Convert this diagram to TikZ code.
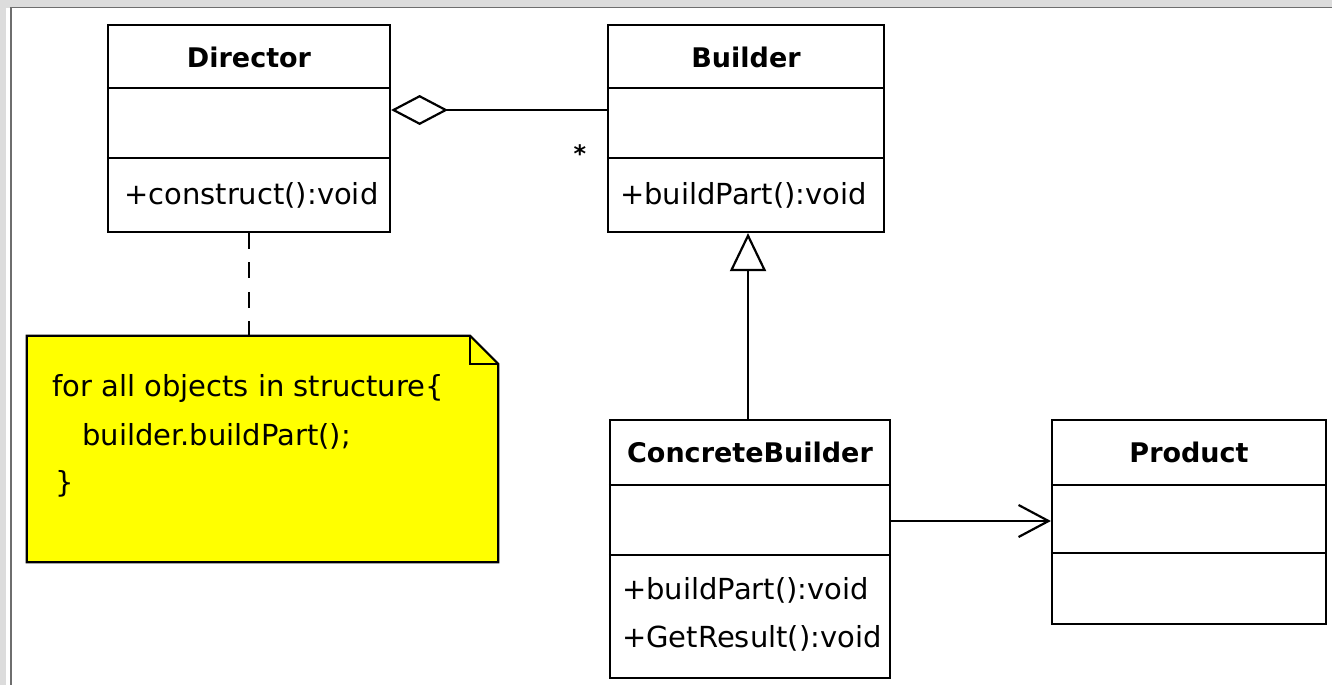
\documentclass[tikz,border=0pt]{standalone}
\usepackage{fontspec}
\setmainfont{DejaVu Sans}
\usetikzlibrary{arrows.meta,calc}
\definecolor{bggray}{HTML}{DCDCDC}
\definecolor{framegray}{HTML}{6E6E6E}
\definecolor{noteyellow}{HTML}{FFFF00}
\begin{document}
\begin{tikzpicture}[x=1pt,y=-1pt,
  ln/.style={line width=2.2pt, draw=black},
  cls/.style={ln, rectangle, inner sep=0pt, fill=white},
  ttl/.style={font=\fontsize{27}{30}\selectfont\bfseries, inner sep=0pt},
  mth/.style={font=\fontsize{29}{32}\selectfont, anchor=west, inner sep=0pt}]
\useasboundingbox (0,0) rectangle (1332,685);
% frame
\fill[bggray] (0,0) rectangle (1332,685);
\fill[white] (6,8.5) rectangle (1332,685);
\fill[framegray] (10,7) rectangle (1332,8.5);
\fill[framegray] (10,7) rectangle (12,685);

% Director
\node[cls, minimum width=282pt, minimum height=207pt] (dir) at (249,128.5) {};
\draw[ln] (dir.west |- 0,88) -- (dir.east |- 0,88);
\draw[ln] (dir.west |- 0,158) -- (dir.east |- 0,158);
\node[ttl] (dirT) at (249,57) {Director};
\node[mth] (dirM) at (124,195) {+construct():void};

% Builder
\node[cls, minimum width=276pt, minimum height=207pt] (bld) at (746,128.5) {};
\draw[ln] (bld.west |- 0,88) -- (bld.east |- 0,88);
\draw[ln] (bld.west |- 0,158) -- (bld.east |- 0,158);
\node[ttl] (bldT) at (746,57) {Builder};
\node[mth] (bldM) at (620,195) {+buildPart():void};

% ConcreteBuilder
\node[cls, minimum width=280pt, minimum height=258pt] (cb) at (750,549) {};
\draw[ln] (cb.west |- 0,485) -- (cb.east |- 0,485);
\draw[ln] (cb.west |- 0,555) -- (cb.east |- 0,555);
\node[ttl] (cbT) at (750,452) {ConcreteBuilder};
\node[mth] (cbM1) at (622,590) {+buildPart():void};
\node[mth] (cbM2) at (622,638) {+GetResult():void};

% Product
\node[cls, minimum width=274pt, minimum height=204pt] (prod) at (1189,522) {};
\draw[ln] (prod.west |- 0,485) -- (prod.east |- 0,485);
\draw[ln] (prod.west |- 0,553) -- (prod.east |- 0,553);
\node[ttl] (prodT) at (1189,452) {Product};

% Note
\node[minimum width=471pt, minimum height=226pt, inner sep=0pt] (note) at (262.5,449) {};
\filldraw[ln, fill=noteyellow] (note.north west) -- ($(note.north east)+(-28,0)$) -- ($(note.north east)+(0,28)$) -- (note.south east) -- (note.south west) -- cycle;
\draw[ln] ($(note.north east)+(-28,0)$) -- ($(note.north east)+(-28,28)$) -- ($(note.north east)+(0,28)$);
\node[mth] (n1) at (52,388) {for all objects in structure\{};
\node[mth] (n2) at (82,436) {builder.buildPart();};
\node[mth] (n3) at (55,484) {\}};

% connectors
\coordinate (aggY) at (0,110);
\draw[ln, {Diamond[open,length=57pt,width=30pt]}-] (dir.east |- aggY) -- (bld.west |- aggY);
\node[font=\fontsize{24}{24}\selectfont\bfseries, inner sep=0pt] (mult) at (580,154) {*};

\coordinate (inhX) at (748,0);
\draw[ln, -{Triangle[open,length=38pt,width=36pt]}] (cb.north -| inhX) -- (bld.south -| inhX);

\coordinate (assY) at (0,521);
\draw[ln, -{Straight Barb[length=30pt,width=32pt]}] (cb.east |- assY) -- (prod.west |- assY);

\draw[ln, dash pattern=on 16pt off 13.33pt] (dir.south) -- (dir.south |- note.north);
\end{tikzpicture}
\end{document}
